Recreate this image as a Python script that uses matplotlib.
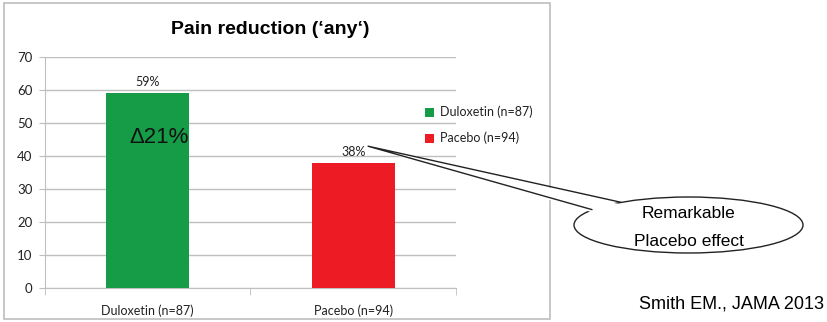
import numpy as np
import matplotlib
matplotlib.use("Agg")
import matplotlib.pyplot as plt
from matplotlib.patches import Ellipse, Polygon, Rectangle
from matplotlib.transforms import IdentityTransform

# Data
categories = ["Duloxetin (n=87)", "Pacebo (n=94)"]
values = [59, 38]
bar_colors = ["#169B47", "#ED1C24"]
y_ticks = [0, 10, 20, 30, 40, 50, 60, 70]
difference = values[0] - values[1]

W, H = 828, 322
fig = plt.figure(figsize=(W / 100, H / 100), dpi=100)
fig.patch.set_facecolor("white")

def fx(px):
    return px / W

def fy(py):
    return 1 - py / H

# chart frame
fig.add_artist(Rectangle((fx(4), fy(319)), fx(550) - fx(4), fy(3) - fy(319),
                         transform=fig.transFigure, fill=False,
                         edgecolor="#BDBDBD", linewidth=1.2))

ax = fig.add_axes([fx(45), fy(288), fx(456) - fx(45), fy(57) - fy(288)])
x = np.arange(len(categories))
ax.bar(x, values, width=0.405, color=bar_colors, zorder=3)

ax.set_xlim(-0.5, len(categories) - 0.5)
ax.set_ylim(0, 70)
ax.set_yticks(y_ticks)
ax.yaxis.grid(True, color="#BFBFBF", linewidth=1.0, zorder=0)
ax.set_axisbelow(True)
for s in ["top", "right"]:
    ax.spines[s].set_visible(False)
ax.spines["left"].set_color("#BFBFBF")
ax.spines["bottom"].set_color("#BFBFBF")
ax.tick_params(axis="y", length=4, color="#BFBFBF", labelsize=9.5, pad=5,
               labelcolor="#222222")
ax.set_xticks(x)
ax.set_xticklabels(categories)
ax.tick_params(axis="x", length=0, labelsize=9, pad=12, labelcolor="#222222")
ax.set_xticks(np.arange(-0.5, len(categories)), minor=True)
ax.tick_params(axis="x", which="minor", length=5, color="#BFBFBF")
for lbl in ax.get_xticklabels() + ax.get_yticklabels():
    lbl.set_family(["Lato", "DejaVu Sans"])

for xi, v in zip(x, values):
    ax.text(xi, v + 1.5, f"{v}%", ha="center", va="bottom", fontsize=9,
            family=["Lato", "DejaVu Sans"], color="#222222")

ax.text(0.055, 45.5, f"\u0394{difference}%", ha="center", va="center", fontsize=16,
        family=["Liberation Sans", "DejaVu Sans"], color="#111111", zorder=4)

fig.text(fx(270), fy(30), "Pain reduction (\u2018any\u2018)", ha="center", va="center",
         fontsize=14, fontweight="bold",
         family=["Liberation Sans", "DejaVu Sans"])

# legend
for i, (cat, col) in enumerate(zip(categories, bar_colors)):
    yy = 112 + i * 26
    fig.add_artist(Rectangle((fx(425), fy(yy + 5)), fx(9), fy(0) - fy(9),
                             transform=fig.transFigure, facecolor=col,
                             edgecolor="none"))
    fig.text(fx(440), fy(yy), cat, ha="left", va="center", fontsize=9,
             family=["Lato", "DejaVu Sans"], color="#222222")

# speech bubble
ident = IdentityTransform()
fig.canvas.draw()
apex = ax.transData.transform((1.07, values[1] + 5))
cx, cy = 688.5, 225
a, b = 114.5, 28
ecx, ecy = cx, H - cy
ell = Ellipse((ecx, ecy), 2 * a, 2 * b, transform=ident, facecolor="white",
              edgecolor="#222222", linewidth=1.0, zorder=5)
fig.add_artist(ell)

def on_ellipse(ang_deg):
    t = np.deg2rad(ang_deg)
    return np.array([ecx + a * np.cos(t), ecy + b * np.sin(t)])

p1 = on_ellipse(126)
p2 = on_ellipse(147)
tri = Polygon([apex, p1 + np.array([3, -4]), p2 + np.array([5, -3])], closed=True,
              transform=ident, facecolor="white", edgecolor="white",
              linewidth=1.5, zorder=6)
fig.add_artist(tri)
fig.add_artist(Polygon([p1, apex, p2], closed=False, transform=ident,
                       fill=False, edgecolor="#222222", linewidth=1.0, zorder=7))
fig.text(fx(cx), fy(214), "Remarkable", ha="center", va="center", fontsize=12.5,
         family=["Liberation Sans", "DejaVu Sans"], zorder=8)
fig.text(fx(cx), fy(241), "Placebo effect", ha="center", va="center", fontsize=12.5,
         family=["Liberation Sans", "DejaVu Sans"], zorder=8)

fig.text(fx(824), fy(304), "Smith EM., JAMA 2013", ha="right", va="center",
         fontsize=13, family=["Liberation Sans", "DejaVu Sans"])

fig.savefig("out.png", dpi=100, facecolor="white")
